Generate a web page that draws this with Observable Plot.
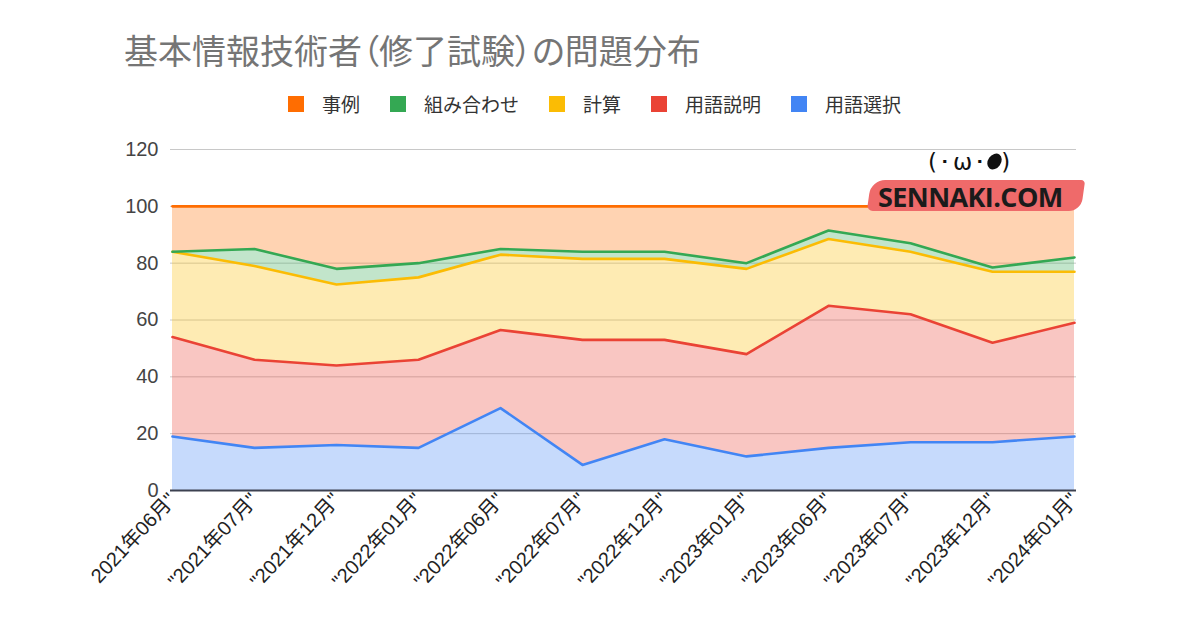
<!DOCTYPE html>
<html>
<head>
<meta charset="utf-8">
<script src="https://cdn.jsdelivr.net/npm/d3@7"></script>
<script src="https://cdn.jsdelivr.net/npm/@observablehq/plot@0.6"></script>
<style>
  html, body { margin: 0; padding: 0; background: #fff; }
  #wrap { position: relative; width: 1200px; height: 628px; overflow: hidden; font-family: "Noto Sans CJK JP", "Noto Sans", sans-serif; }
  #title { position: absolute; left: 124px; top: 33px; font-size: 34px; line-height: 1; color: #757575; white-space: nowrap; font-feature-settings: "palt"; letter-spacing: 0px; }
  #legend { position: absolute; left: 288px; top: 94px; display: flex; align-items: center; font-size: 19px; color: #333; line-height: 1; }
  #legend .item { display: flex; align-items: center; margin-right: 30px; }
  #legend .sw { width: 16px; height: 16px; margin-right: 18px; }
  #chart { position: absolute; left: 0; top: 0; }
  #wm { position: absolute; left: 866px; top: 148px; width: 220px; height: 72px; pointer-events: none; }
  #wm .brush { position: absolute; left: 3px; top: 32px; width: 214px; height: 31px; background: #ef6a6a; border-radius: 14px 4px 12px 6px; transform: skewX(-8deg); }
  #wm .txt { position: absolute; left: 12px; top: 35px; line-height: 1; font-family: "Open Sans", "DejaVu Sans", sans-serif; font-weight: 700; font-size: 27px; color: #1b1b1b; letter-spacing: -0.6px; }
  #wm .face { position: absolute; left: 62px; top: 3px; line-height: 1; font-family: "DejaVu Sans", sans-serif; font-size: 23px; color: #111; letter-spacing: 2px; }
</style>
</head>
<body>
<div id="wrap">
  <div id="chart"></div>
  <div id="title"></div>
  <div id="legend"></div>
  <div id="wm">
    <div class="brush"></div>
    <div class="txt">SENNAKI.COM</div>
    <div class="face">(･ω･<span style="display:inline-block;width:13px;height:17px;background:#111;border-radius:50%;transform:rotate(35deg);"></span>)</div>
  </div>
</div>
<script>
const titleText = "基本情報技術者（修了試験）の問題分布";
const categories = ['2021年06月"', '"2021年07月"', '"2021年12月"', '"2022年01月"', '"2022年06月"', '"2022年07月"', '"2022年12月"', '"2023年01月"', '"2023年06月"', '"2023年07月"', '"2023年12月"', '"2024年01月"'];
// series, bottom to top of the stack
const seriesNames = ["用語選択", "用語説明", "計算", "組み合わせ", "事例"];
const yougoSentaku = [19, 15, 16, 15, 29, 9, 18, 12, 15, 17, 17, 19];
const yougoSetsumei = [35, 31, 28, 31, 27.5, 44, 35, 36, 50, 45, 35, 40];
const keisan = [30, 33, 28.5, 29, 26.5, 28.5, 28.5, 30, 23.5, 22, 25, 18];
const kumiawase = [0, 6, 5.5, 5, 2, 2.5, 2.5, 2, 3, 3, 1.5, 5];
const jirei = [16, 15, 22, 20, 15, 16, 16, 20, 8.5, 13, 21.5, 18];
const seriesColors = ["#4285F4", "#EA4335", "#FBBC04", "#34A853", "#FF6D01"];
const legendOrder = ["事例", "組み合わせ", "計算", "用語説明", "用語選択"];
const yTicks = [0, 20, 40, 60, 80, 100, 120];

const seriesValues = [yougoSentaku, yougoSetsumei, keisan, kumiawase, jirei];
const data = [];
seriesNames.forEach((s, i) => {
  categories.forEach((c, j) => data.push({series: s, cat: c, value: seriesValues[i][j]}));
});

document.getElementById("title").textContent = titleText;
const legend = document.getElementById("legend");
legendOrder.forEach(name => {
  const it = document.createElement("div");
  it.className = "item";
  const sw = document.createElement("div");
  sw.className = "sw";
  sw.style.background = seriesColors[seriesNames.indexOf(name)];
  const t = document.createElement("span");
  t.textContent = name;
  it.appendChild(sw); it.appendChild(t);
  legend.appendChild(it);
});

const chart = Plot.plot({
  width: 1200,
  height: 628,
  marginTop: 149,
  marginBottom: 138,
  marginLeft: 170,
  marginRight: 124,
  style: {fontFamily: "'Liberation Sans', 'Noto Sans CJK JP', sans-serif", color: "#444", background: "transparent"},
  x: {type: "point", domain: categories, padding: 0, label: null, axis: null},
  y: {domain: [0, 120], label: null, axis: null},
  color: {domain: seriesNames, range: seriesColors},
  marks: [
    Plot.gridY(yTicks, {stroke: "#c8c8c8", strokeOpacity: 1, strokeWidth: 1}),
    Plot.areaY(data, {x: "cat", y: "value", z: "series", fill: "series", fillOpacity: 0.3, order: seriesNames}),
    Plot.lineY(data, Plot.stackY2({x: "cat", y: "value", z: "series", stroke: "series", strokeWidth: 2.6, order: seriesNames})),
    Plot.ruleY([0], {stroke: "#3c4150", strokeWidth: 2}),
    Plot.axisY(yTicks, {tickSize: 0, tickPadding: 12, fontSize: 20, fill: "#444", label: null}),
    Plot.axisX(categories, {tickSize: 0, tickPadding: 6, tickRotate: -47, fontSize: 20, fill: "#222", label: null})
  ]
});
document.getElementById("chart").appendChild(chart);
</script>
</body>
</html>
